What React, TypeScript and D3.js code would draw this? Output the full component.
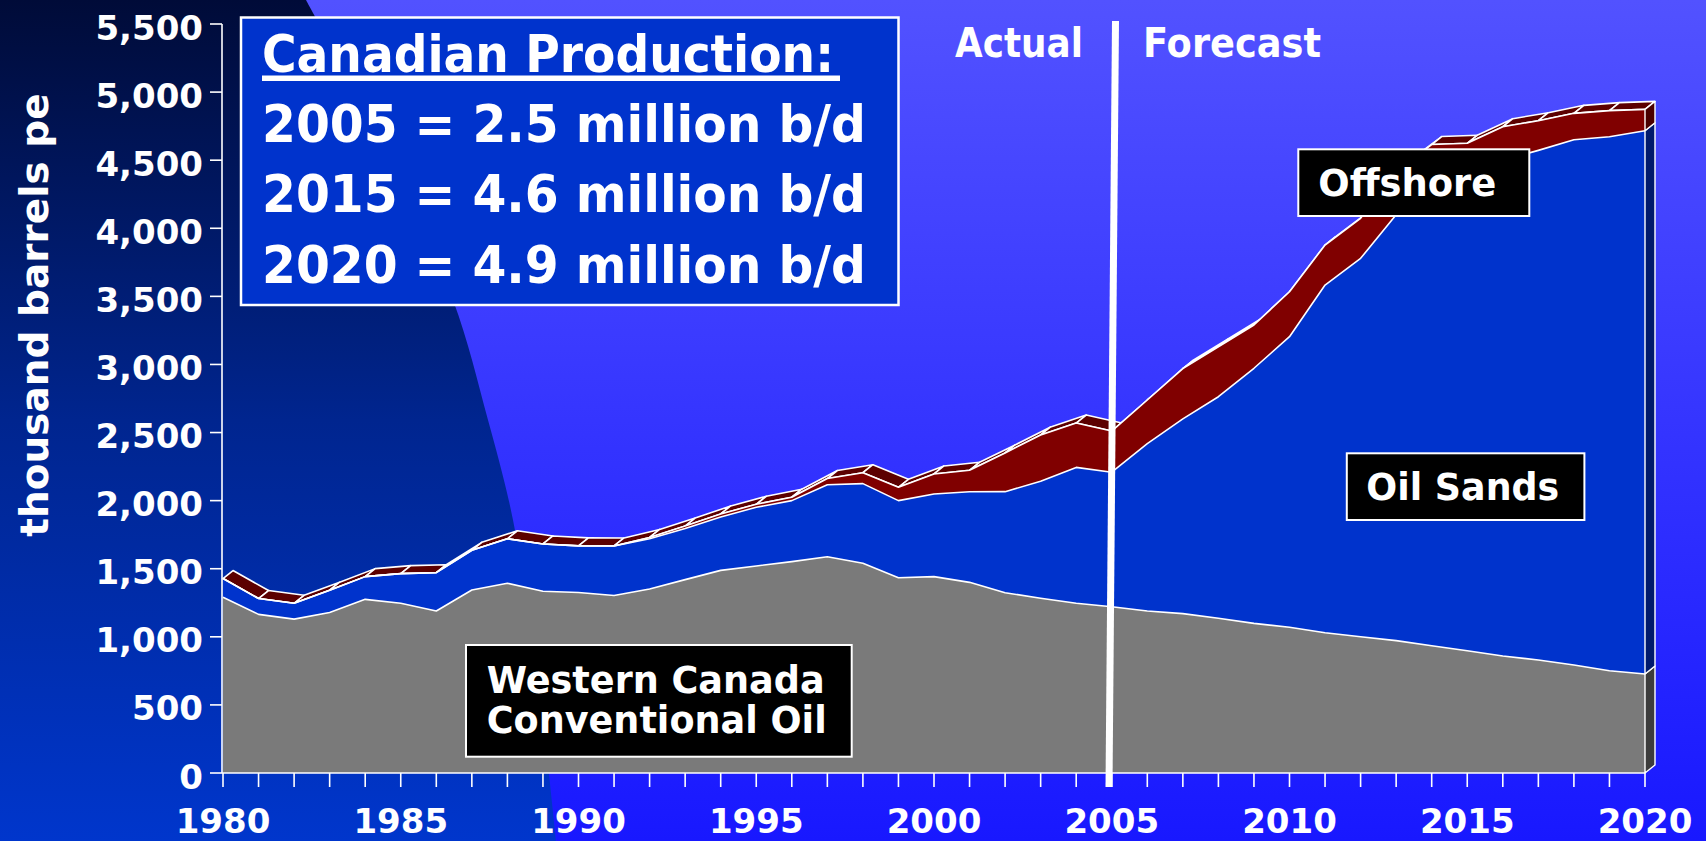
import React from 'react';
import * as d3 from 'd3';

const years = [1980, 1981, 1982, 1983, 1984, 1985, 1986, 1987, 1988, 1989, 1990, 1991, 1992, 1993, 1994, 1995, 1996, 1997, 1998, 1999, 2000, 2001, 2002, 2003, 2004, 2005, 2006, 2007, 2008, 2009, 2010, 2011, 2012, 2013, 2014, 2015, 2016, 2017, 2018, 2019, 2020];
const conventional = [1290, 1165, 1130, 1178, 1275, 1246, 1190, 1344, 1393, 1335, 1325, 1303, 1351, 1420, 1488, 1520, 1552, 1588, 1540, 1434, 1442, 1400, 1324, 1283, 1246, 1221, 1190, 1170, 1136, 1099, 1070, 1030, 1001, 972, 935, 898, 859, 830, 793, 751, 727];
const oilSands = [138, 116, 116, 164, 167, 218, 281, 291, 327, 347, 343, 364, 369, 375, 392, 431, 448, 529, 585, 566, 607, 665, 742, 859, 998, 988, 1228, 1430, 1627, 1873, 2134, 2553, 2778, 3128, 3365, 3492, 3641, 3742, 3857, 3921, 3989];
const offshore = [0, 0, 0, 0, 0, 0, 0, 0, 0, 0, 0, 0, 10, 18, 22, 22, 25, 45, 80, 98, 147, 158, 284, 340, 326, 302, 321, 370, 367, 318, 330, 294, 294, 320, 315, 234, 246, 218, 194, 192, 157];
const seriesKeys = ['conventional', 'oilSands', 'offshore'];
const yTicks = [0, 500, 1000, 1500, 2000, 2500, 3000, 3500, 4000, 4500, 5000, 5500];
const xTickLabels = [1980, 1985, 1990, 1995, 2000, 2005, 2010, 2015, 2020];
const titleHeading = 'Canadian Production:';
const titleLines = ['2005 = 2.5 million b/d', '2015 = 4.6 million b/d', '2020 = 4.9 million b/d'];

const W = 1706;
const H = 841;
const FONT = "'DejaVu Sans', Verdana, sans-serif";
const frontColors: Record<string, string> = { conventional: '#7a7a7a', oilSands: '#0033cc', offshore: '#800000' };
const sideColors: Record<string, string> = { conventional: '#3c3c3c', oilSands: '#001a6e', offshore: '#4a0000' };
const topFaceColor = '#5c0000';
const DX = 10;
const DY = -8;

export default function App() {
  const x = d3.scaleLinear().domain([1980, 2020]).range([223, 1645]);
  const y = d3.scaleLinear().domain([0, 5500]).range([773, 24]);

  const rows = years.map((yr, i) => ({ year: yr, conventional: conventional[i], oilSands: oilSands[i], offshore: offshore[i] }));
  const series = d3.stack<any>().keys(seriesKeys)(rows as any);

  const area = d3.area<any>()
    .x((d: any) => x(d.data.year))
    .y0((d: any) => y(d[0]))
    .y1((d: any) => y(d[1]));
  const topLine = d3.line<any>()
    .x((d: any) => x(d.data.year))
    .y((d: any) => y(d[1]));

  const top = series[series.length - 1];
  const topFaces: string[] = [];
  for (let i = 0; i < top.length - 1; i++) {
    const x0 = x(years[i]), x1 = x(years[i + 1]);
    const y0 = y(top[i][1]), y1 = y(top[i + 1][1]);
    topFaces.push(`M${x0},${y0}L${x1},${y1}L${x1 + DX},${y1 + DY}L${x0 + DX},${y0 + DY}Z`);
  }

  const last = years.length - 1;
  const xr = x(years[last]);

  // background dark curved region boundary
  const boundary: [number, number][] = [[306, 0], [385, 150], [453, 300], [488, 420], [513, 520], [538, 680], [556, 841]];
  const bLine = d3.line().curve(d3.curveCatmullRom)(boundary) || '';
  const darkPath = `M0,0L${bLine.slice(1)}L0,${H}Z`;

  return (
    <svg width={W} height={H} style={{ position: 'absolute', left: 0, top: 0, display: 'block' }} fontFamily={FONT}>
      <defs>
        <linearGradient id="bg" x1="0" y1="0" x2="0" y2="1">
          <stop offset="0" stopColor="#5252ff" />
          <stop offset="1" stopColor="#1818ff" />
        </linearGradient>
        <linearGradient id="dark" x1="0" y1="0" x2="0" y2="1">
          <stop offset="0" stopColor="#000b38" />
          <stop offset="0.5" stopColor="#00258f" />
          <stop offset="1" stopColor="#0036cc" />
        </linearGradient>
      </defs>
      <rect x={0} y={0} width={W} height={H} fill="url(#bg)" />
      <path d={darkPath} fill="url(#dark)" />

      {/* top faces of the 3D ribbon */}
      {topFaces.map((d, i) => (
        <path key={'tf' + i} d={d} fill={topFaceColor} stroke="#fff" strokeWidth={1.6} strokeLinejoin="round" />
      ))}

      {/* front faces */}
      {series.map((s: any) => (
        <path key={'a' + s.key} d={area(s) || ''} fill={frontColors[s.key]} />
      ))}
      {series.map((s: any) => (
        <path key={'l' + s.key} d={topLine(s) || ''} fill="none" stroke="#fff" strokeWidth={1.6} strokeLinejoin="round" />
      ))}

      {/* right side faces */}
      {series.map((s: any) => {
        const yb = y(s[last][0]);
        const yt = y(s[last][1]);
        return (
          <path key={'r' + s.key}
            d={`M${xr},${yb}L${xr},${yt}L${xr + DX},${yt + DY}L${xr + DX},${yb + DY}Z`}
            fill={sideColors[s.key]} stroke="#fff" strokeWidth={1.4} strokeLinejoin="round" />
        );
      })}

      {/* axes */}
      <line x1={222} y1={y(5500)} x2={222} y2={y(0)} stroke="#fff" strokeWidth={1.6} />
      <line x1={222} y1={y(0)} x2={xr} y2={y(0)} stroke="#fff" strokeWidth={1.6} />
      {yTicks.map(t => (
        <g key={'yt' + t}>
          <line x1={210} x2={222} y1={y(t)} y2={y(t)} stroke="#fff" strokeWidth={1.6} />
          <text x={203} y={y(t) + 15.5} textAnchor="end" fontSize={34} fontWeight="bold" fill="#fff">{d3.format(',')(t)}</text>
        </g>
      ))}
      {years.map(yr => (
        <line key={'xt' + yr} x1={x(yr)} x2={x(yr)} y1={y(0)} y2={y(0) + 14} stroke="#fff" strokeWidth={1.6} />
      ))}
      {xTickLabels.map(yr => (
        <text key={'xl' + yr} x={x(yr)} y={832.5} textAnchor="middle" fontSize={34} fontWeight="bold" fill="#fff">{yr}</text>
      ))}
      <text transform="translate(48,315) rotate(-90)" textAnchor="middle" fontSize={39} fontWeight="bold" fill="#fff">thousand barrels pe</text>

      {/* title box */}
      <rect x={241} y={17.5} width={657.5} height={287.5} fill="#0033cc" stroke="#fff" strokeWidth={2.5} />
      <text x={262} y={71.7} fontSize={52} fontWeight="bold" fill="#fff" textLength={572} lengthAdjust="spacingAndGlyphs">{titleHeading}</text>
      <rect x={262} y={75.5} width={578} height={5.5} fill="#fff" />
      {titleLines.map((t, i) => (
        <text key={'tl' + i} x={262} y={141.7 + i * 70.5} fontSize={52} fontWeight="bold" fill="#fff" textLength={604} lengthAdjust="spacingAndGlyphs">{t}</text>
      ))}

      {/* actual / forecast divider */}
      <line x1={1115.5} y1={21} x2={1109} y2={787} stroke="#fff" strokeWidth={7} />
      <text x={955} y={56.7} fontSize={41} fontWeight="bold" fill="#fff" textLength={128} lengthAdjust="spacingAndGlyphs">Actual</text>
      <text x={1143} y={56.7} fontSize={41} fontWeight="bold" fill="#fff" textLength={178} lengthAdjust="spacingAndGlyphs">Forecast</text>

      {/* series labels */}
      <rect x={466} y={645} width={385.7} height={111.7} fill="#000" stroke="#fff" strokeWidth={2} />
      <text x={486.7} y={692.7} fontSize={37} fontWeight="bold" fill="#fff" textLength={338} lengthAdjust="spacingAndGlyphs">Western Canada</text>
      <text x={486.7} y={732.7} fontSize={37} fontWeight="bold" fill="#fff" textLength={340} lengthAdjust="spacingAndGlyphs">Conventional Oil</text>

      <rect x={1298.3} y={149.3} width={231} height={66.7} fill="#000" stroke="#fff" strokeWidth={2} />
      <text x={1318.3} y={196} fontSize={37} fontWeight="bold" fill="#fff" textLength={178} lengthAdjust="spacingAndGlyphs">Offshore</text>

      <rect x={1346.8} y={453.3} width={237.6} height={66.7} fill="#000" stroke="#fff" strokeWidth={2} />
      <text x={1366.3} y={500} fontSize={37} fontWeight="bold" fill="#fff" textLength={193} lengthAdjust="spacingAndGlyphs">Oil Sands</text>
    </svg>
  );
}
